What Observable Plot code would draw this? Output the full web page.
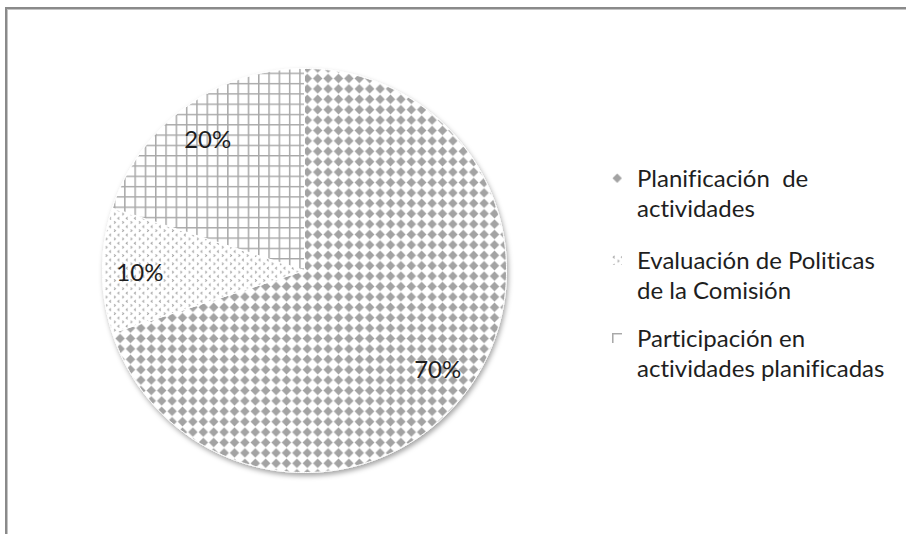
<!DOCTYPE html>
<html>
<head>
<meta charset="utf-8">
<script src="https://cdn.jsdelivr.net/npm/d3@7"></script>
<script src="https://cdn.jsdelivr.net/npm/@observablehq/plot@0.6"></script>
<style>
  html, body { margin: 0; padding: 0; background: #fff; }
  #wrap { position: relative; width: 906px; height: 534px; overflow: hidden; font-family: Lato, "Open Sans", sans-serif; font-variant-ligatures: none; }
  #frame { position: absolute; left: 5px; top: 7px; width: 1200px; height: 1200px; border-left: 2px solid #8a8a8a; border-top: 2px solid #8a8a8a; box-shadow: inset 1px 1px 0 #c4c4c4; }
  .leg { position: absolute; left: 612px; font-size: 24px; line-height: 29.5px; color: #1e1e1e; }
  .leg svg { position: absolute; left: 0; top: 10px; }
  .leg span { display: block; margin-left: 25px; white-space: pre; }
  #chart { position: absolute; left: 0; top: 0; }
  #chart text { font-variant-ligatures: none; }
</style>
</head>
<body>
<svg width="0" height="0" style="position:absolute">
  <defs>
    <pattern id="pDiamond" patternUnits="userSpaceOnUse" width="10.4" height="10.4">
      <rect width="10.4" height="10.4" fill="#fff"/>
      <path d="M5.2,0.5 L9.9,5.2 L5.2,9.9 L0.5,5.2Z" fill="#a3a3a3"/>
    </pattern>
    <pattern id="pChevron" patternUnits="userSpaceOnUse" width="8.3" height="8.3">
      <rect width="8.3" height="8.3" fill="#fff"/>
      <path d="M2.6,0.8 L1.2,2 L2.6,3.2" fill="none" stroke="#a0a0a0" stroke-width="1"/>
      <path d="M5.6,4.9 L7,6.1 L5.6,7.3" fill="none" stroke="#a0a0a0" stroke-width="1"/>
    </pattern>
    <pattern id="pGrid" patternUnits="userSpaceOnUse" width="10.3" height="10.3">
      <rect width="10.3" height="10.3" fill="#fff"/>
      <path d="M0,0.75 H10.3 M0.75,0 V10.3" stroke="#a8a8a8" stroke-width="1.5"/>
    </pattern>
    <filter id="shadow" x="-10%" y="-10%" width="120%" height="120%">
      <feDropShadow dx="1.5" dy="3" stdDeviation="2.5" flood-color="#000" flood-opacity="0.35"/>
    </filter>
  </defs>
</svg>
<div id="wrap">
  <div id="chart"></div>
  <div id="frame"></div>
  <div id="legend"></div>
</div>
<script>
const categories = [
  ["Planificación  de", "actividades"],
  ["Evaluación de Politicas", "de la Comisión"],
  ["Participación en", "actividades planificadas"]
];
const values = [70, 10, 20];
const labelTexts = ["70%", "10%", "20%"];
const patternFills = ["url(#pDiamond)", "url(#pChevron)", "url(#pGrid)"];

const arcs = d3.pie().sort(null).value(v => v)(values);

const slicePoints = [];
arcs.forEach((a, i) => {
  slicePoints.push({i, x: 0, y: 0, fill: patternFills[i]});
  const n = Math.max(2, Math.ceil((a.endAngle - a.startAngle) / (Math.PI / 360)));
  for (let k = 0; k <= n; k++) {
    const t = a.startAngle + (a.endAngle - a.startAngle) * k / n;
    slicePoints.push({i, x: Math.sin(t), y: Math.cos(t), fill: patternFills[i]});
  }
  slicePoints.push({i, x: 0, y: 0, fill: patternFills[i]});
});

const labelData = arcs.map((a, i) => {
  const m = (a.startAngle + a.endAngle) / 2;
  return {x: 0.815 * Math.sin(m), y: 0.815 * Math.cos(m), text: labelTexts[i]};
});

const chart = Plot.plot({
  width: 906,
  height: 534,
  marginLeft: 102,
  marginRight: 400,
  marginTop: 68,
  marginBottom: 62,
  x: {domain: [-1, 1], axis: null},
  y: {domain: [-1, 1], axis: null},
  color: {type: "identity"},
  style: {fontFamily: "Lato, 'Open Sans', sans-serif", background: "transparent"},
  marks: [
    Plot.line(slicePoints, {x: "x", y: "y", z: "i", fill: "fill", stroke: "#fff", strokeWidth: 1}),
    Plot.text(labelData, {x: "x", y: "y", text: "text", fontSize: 24, fill: "#1e1e1e", dy: 3})
  ]
});
const lineG = chart.querySelector('g[aria-label="line"]');
if (lineG) lineG.setAttribute("filter", "url(#shadow)");
document.getElementById("chart").appendChild(chart);

const legTops = [163, 245, 323];
const legend = document.getElementById("legend");
categories.forEach((lines, i) => {
  const d = document.createElement("div");
  d.className = "leg";
  d.style.top = legTops[i] + "px";
  d.innerHTML = `<svg width="10" height="10"><rect width="10" height="10" fill="${patternFills[i]}"/></svg>` +
    lines.map(l => `<span>${l}</span>`).join("");
  legend.appendChild(d);
});
</script>
</body>
</html>
